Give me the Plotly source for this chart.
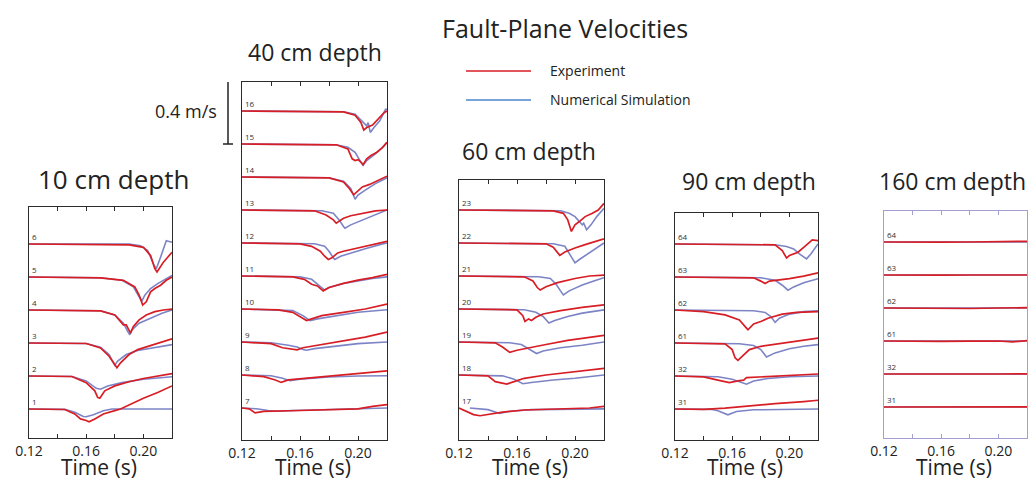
import plotly.graph_objects as go

W, H = 1029, 480
PX_PER_MS = 165.0      # vertical scale: pixels per m/s
SPACING = 0.2          # m/s between stacked stations

RED = "#d81e25"
BLUE = "#7c84c6"
LEG_BLUE = "#4b86cf"

TIME_TICKS = [0.12, 0.14, 0.16, 0.18, 0.20, 0.22]
TIME_TICK_TEXT = ["0.12", "", "0.16", "", "0.20", ""]
X_TITLE = "Time (s)"

PANEL_TITLES = ["10 cm depth", "40 cm depth", "60 cm depth", "90 cm depth", "160 cm depth"]

# ---------------- 10 cm depth (stations bottom -> top) ----------------
STATIONS_10 = ["1", "2", "3", "4", "5", "6"]
EXP_10 = {
    "1": ([0.12, 0.145, 0.152, 0.156, 0.16, 0.162, 0.166, 0.172, 0.18, 0.184, 0.2, 0.21, 0.22],
          [0, -0.003, -0.03, -0.06, -0.07, -0.078, -0.06, -0.03, -0.01, 0.0, 0.065, 0.1, 0.14]),
    "2": ([0.12, 0.15, 0.16, 0.166, 0.168, 0.1695, 0.171, 0.173, 0.18, 0.19, 0.2, 0.21, 0.22],
          [0, -0.003, -0.04, -0.09, -0.13, -0.135, -0.115, -0.09, -0.06, -0.035, -0.015, 0.0, 0.015]),
    "3": ([0.12, 0.16, 0.17, 0.176, 0.18, 0.1815, 0.184, 0.19, 0.196, 0.205, 0.212, 0.22],
          [0, -0.003, -0.03, -0.08, -0.13, -0.15, -0.12, -0.07, -0.04, -0.015, 0.0, 0.025]),
    "4": ([0.12, 0.17, 0.18, 0.186, 0.188, 0.19, 0.191, 0.193, 0.197, 0.202, 0.208, 0.214, 0.22],
          [0, -0.005, -0.03, -0.09, -0.09, -0.12, -0.14, -0.1, -0.06, -0.03, -0.01, 0.0, 0.005]),
    "5": ([0.12, 0.17, 0.186, 0.194, 0.197, 0.1995, 0.202, 0.205, 0.208, 0.212, 0.216, 0.22],
          [0, -0.005, -0.02, -0.06, -0.11, -0.17, -0.15, -0.09, -0.07, -0.05, -0.02, 0.0]),
    "6": ([0.12, 0.19, 0.2, 0.205, 0.208, 0.2095, 0.211, 0.214, 0.217, 0.22],
          [0, -0.005, -0.02, -0.07, -0.15, -0.17, -0.15, -0.11, -0.08, -0.05]),
}
SIM_10 = {
    "1": ([0.12, 0.145, 0.152, 0.158, 0.16, 0.165, 0.172, 0.178, 0.22],
          [0, -0.002, -0.02, -0.045, -0.047, -0.035, -0.01, 0.0, 0.0]),
    "2": ([0.12, 0.15, 0.16, 0.167, 0.17, 0.175, 0.185, 0.2, 0.22],
          [0, -0.003, -0.03, -0.075, -0.08, -0.06, -0.04, -0.02, -0.005]),
    "3": ([0.12, 0.16, 0.17, 0.176, 0.179, 0.18, 0.182, 0.188, 0.196, 0.206, 0.22],
          [0, -0.003, -0.025, -0.07, -0.12, -0.135, -0.11, -0.07, -0.045, -0.03, -0.01]),
    "4": ([0.12, 0.17, 0.18, 0.186, 0.189, 0.1905, 0.192, 0.197, 0.205, 0.213, 0.22],
          [0, -0.005, -0.03, -0.08, -0.13, -0.15, -0.12, -0.08, -0.05, -0.02, 0.0]),
    "5": ([0.12, 0.17, 0.185, 0.193, 0.197, 0.199, 0.201, 0.205, 0.21, 0.215, 0.22],
          [0, -0.005, -0.02, -0.06, -0.12, -0.145, -0.11, -0.07, -0.04, -0.015, 0.01]),
    "6": ([0.12, 0.19, 0.198, 0.203, 0.2075, 0.209, 0.212, 0.216, 0.22],
          [0, 0.0, -0.01, -0.04, -0.13, -0.15, -0.08, 0.02, 0.01]),
}

# ---------------- 40 cm depth ----------------
STATIONS_40 = ["7", "8", "9", "10", "11", "12", "13", "14", "15", "16"]
EXP_40 = {
    "7": ([0.12, 0.125, 0.129, 0.135, 0.16, 0.18, 0.2, 0.21, 0.22],
          [0, -0.005, -0.03, -0.02, -0.015, -0.012, -0.005, 0.01, 0.02]),
    "8": ([0.12, 0.135, 0.143, 0.147, 0.152, 0.165, 0.18, 0.2, 0.22],
          [0, -0.01, -0.03, -0.045, -0.03, -0.02, -0.005, 0.01, 0.025]),
    "9": ([0.12, 0.14, 0.148, 0.155, 0.158, 0.162, 0.175, 0.19, 0.205, 0.22],
          [0, -0.01, -0.035, -0.045, -0.048, -0.035, -0.015, 0.01, 0.03, 0.06]),
    "10": ([0.12, 0.145, 0.155, 0.162, 0.1645, 0.168, 0.175, 0.19, 0.205, 0.22],
           [0, -0.005, -0.02, -0.06, -0.07, -0.06, -0.04, -0.02, 0.0, 0.03]),
    "11": ([0.12, 0.155, 0.163, 0.168, 0.172, 0.175, 0.176, 0.18, 0.19, 0.2, 0.21, 0.22],
           [0, -0.005, -0.02, -0.05, -0.06, -0.08, -0.09, -0.07, -0.045, -0.025, -0.01, 0.01]),
    "12": ([0.12, 0.16, 0.168, 0.174, 0.177, 0.1795, 0.182, 0.186, 0.19, 0.2, 0.21, 0.22],
           [0, -0.005, -0.02, -0.05, -0.08, -0.1, -0.09, -0.06, -0.05, -0.03, -0.01, 0.01]),
    "13": ([0.12, 0.17, 0.178, 0.183, 0.185, 0.187, 0.19, 0.195, 0.205, 0.212, 0.22],
           [0, -0.005, -0.03, -0.06, -0.08, -0.07, -0.05, -0.035, -0.02, -0.005, 0.0]),
    "14": ([0.12, 0.18, 0.19, 0.194, 0.197, 0.199, 0.203, 0.208, 0.214, 0.22],
           [0, -0.005, -0.03, -0.07, -0.108, -0.09, -0.06, -0.045, -0.02, 0.005]),
    "15": ([0.12, 0.185, 0.193, 0.196, 0.198, 0.2, 0.202, 0.2035, 0.206, 0.209, 0.213, 0.217, 0.22],
           [0, -0.005, -0.03, -0.09, -0.1, -0.095, -0.11, -0.125, -0.09, -0.07, -0.05, -0.02, 0.01]),
    "16": ([0.12, 0.19, 0.198, 0.202, 0.204, 0.206, 0.21, 0.214, 0.218, 0.22],
           [0, -0.005, -0.025, -0.07, -0.115, -0.1, -0.085, -0.05, -0.01, 0.0]),
}
SIM_40 = {
    "7": ([0.12, 0.13, 0.138, 0.144, 0.155, 0.18, 0.2, 0.22],
          [0, -0.005, -0.015, -0.02, -0.015, -0.01, -0.006, 0.0]),
    "8": ([0.12, 0.14, 0.148, 0.153, 0.16, 0.18, 0.2, 0.22],
          [0, -0.005, -0.02, -0.035, -0.025, -0.012, -0.006, -0.005]),
    "9": ([0.12, 0.14, 0.152, 0.158, 0.162, 0.1645, 0.17, 0.185, 0.2, 0.22],
          [0, -0.005, -0.02, -0.03, -0.045, -0.05, -0.04, -0.025, -0.01, 0.0]),
    "10": ([0.12, 0.155, 0.162, 0.167, 0.172, 0.185, 0.2, 0.22],
           [0, -0.01, -0.04, -0.07, -0.06, -0.04, -0.02, -0.005]),
    "11": ([0.12, 0.16, 0.168, 0.172, 0.176, 0.177, 0.18, 0.19, 0.2, 0.21, 0.22],
           [0, -0.005, -0.02, -0.05, -0.08, -0.085, -0.07, -0.045, -0.03, -0.015, -0.005]),
    "12": ([0.12, 0.17, 0.177, 0.18, 0.183, 0.184, 0.188, 0.195, 0.205, 0.215, 0.22],
           [0, -0.005, -0.02, -0.05, -0.09, -0.1, -0.08, -0.06, -0.035, -0.01, 0.0]),
    "13": ([0.12, 0.175, 0.183, 0.187, 0.19, 0.191, 0.195, 0.203, 0.212, 0.22],
           [0, -0.005, -0.02, -0.06, -0.1, -0.11, -0.09, -0.06, -0.03, 0.0]),
    "14": ([0.12, 0.18, 0.19, 0.195, 0.198, 0.2, 0.205, 0.212, 0.22],
           [0, -0.005, -0.025, -0.07, -0.135, -0.11, -0.08, -0.04, -0.005]),
    "15": ([0.12, 0.185, 0.193, 0.198, 0.202, 0.2035, 0.206, 0.212, 0.217, 0.22],
           [0, -0.005, -0.02, -0.05, -0.11, -0.13, -0.1, -0.06, -0.02, 0.01]),
    "16": ([0.12, 0.19, 0.198, 0.203, 0.206, 0.207, 0.2085, 0.211, 0.215, 0.219, 0.22],
           [0, -0.005, -0.02, -0.06, -0.09, -0.07, -0.13, -0.1, -0.06, 0.01, 0.01]),
}

# ---------------- 60 cm depth ----------------
STATIONS_60 = ["17", "18", "19", "20", "21", "22", "23"]
EXP_60 = {
    "17": ([0.12, 0.125, 0.13, 0.1345, 0.14, 0.15, 0.165, 0.19, 0.21, 0.22],
           [0, -0.02, -0.04, -0.047, -0.04, -0.025, -0.012, -0.005, 0.0, 0.01]),
    "18": ([0.12, 0.14, 0.145, 0.15, 0.153, 0.158, 0.165, 0.18, 0.2, 0.22],
           [0, -0.005, -0.04, -0.05, -0.055, -0.04, -0.02, 0.0, 0.02, 0.04]),
    "19": ([0.12, 0.145, 0.15, 0.155, 0.16, 0.168, 0.18, 0.195, 0.21, 0.22],
           [0, -0.005, -0.03, -0.063, -0.05, -0.035, -0.015, 0.01, 0.03, 0.04]),
    "20": ([0.12, 0.16, 0.164, 0.1655, 0.168, 0.17, 0.173, 0.178, 0.19, 0.205, 0.22],
           [0, -0.005, -0.04, -0.075, -0.06, -0.07, -0.05, -0.03, -0.01, 0.01, 0.025]),
    "21": ([0.12, 0.165, 0.171, 0.174, 0.176, 0.18, 0.188, 0.2, 0.21, 0.22],
           [0, -0.005, -0.03, -0.07, -0.085, -0.065, -0.04, -0.015, 0.0, 0.005]),
    "22": ([0.12, 0.18, 0.185, 0.1895, 0.193, 0.2, 0.207, 0.215, 0.22],
           [0, -0.005, -0.025, -0.075, -0.055, -0.03, -0.01, 0.01, 0.025]),
    "23": ([0.12, 0.185, 0.192, 0.195, 0.1975, 0.2, 0.203, 0.207, 0.212, 0.216, 0.22],
           [0, -0.005, -0.02, -0.06, -0.13, -0.09, -0.07, -0.04, -0.02, 0.0, 0.04]),
}
SIM_60 = {
    "17": ([0.1275, 0.14, 0.148, 0.155, 0.17, 0.2, 0.22],
           [0, -0.01, -0.033, -0.02, -0.01, -0.005, -0.005]),
    "18": ([0.12, 0.15, 0.158, 0.164, 0.17, 0.185, 0.2, 0.22],
           [0, -0.005, -0.025, -0.053, -0.045, -0.03, -0.02, 0.0]),
    "19": ([0.12, 0.155, 0.163, 0.168, 0.1735, 0.178, 0.19, 0.205, 0.22],
           [0, -0.005, -0.015, -0.04, -0.07, -0.055, -0.035, -0.02, 0.0]),
    "20": ([0.12, 0.165, 0.173, 0.178, 0.182, 0.186, 0.195, 0.205, 0.22],
           [0, -0.005, -0.02, -0.045, -0.085, -0.07, -0.045, -0.025, -0.005]),
    "21": ([0.12, 0.175, 0.183, 0.187, 0.19, 0.192, 0.196, 0.205, 0.213, 0.22],
           [0, -0.005, -0.015, -0.05, -0.09, -0.115, -0.09, -0.055, -0.03, -0.01]),
    "22": ([0.12, 0.185, 0.193, 0.196, 0.2, 0.203, 0.21, 0.215, 0.22],
           [0, -0.005, -0.02, -0.06, -0.12, -0.1, -0.06, -0.03, 0.0]),
    "23": ([0.12, 0.19, 0.196, 0.2, 0.203, 0.205, 0.206, 0.208, 0.211, 0.215, 0.22],
           [0, -0.005, -0.02, -0.04, -0.07, -0.09, -0.08, -0.12, -0.09, -0.04, 0.01]),
}

# ---------------- 90 cm depth ----------------
STATIONS_90 = ["31", "32", "61", "62", "63", "64"]
EXP_90 = {
    "31": ([0.12, 0.14, 0.155, 0.17, 0.19, 0.21, 0.22],
           [0, -0.002, 0.005, 0.018, 0.032, 0.045, 0.053]),
    "32": ([0.12, 0.14, 0.15, 0.158, 0.164, 0.168, 0.17, 0.18, 0.2, 0.22],
           [0, -0.005, -0.025, -0.04, -0.03, -0.025, -0.01, -0.005, 0.005, 0.012]),
    "61": ([0.12, 0.155, 0.16, 0.162, 0.164, 0.167, 0.172, 0.18, 0.195, 0.22],
           [0, -0.005, -0.04, -0.09, -0.105, -0.08, -0.04, -0.02, 0.0, 0.03]),
    "62": ([0.12, 0.14, 0.155, 0.165, 0.17, 0.171, 0.175, 0.18, 0.185, 0.195, 0.205, 0.22],
           [0, -0.01, -0.03, -0.06, -0.11, -0.12, -0.085, -0.07, -0.05, -0.025, -0.015, -0.01]),
    "63": ([0.12, 0.175, 0.18, 0.183, 0.186, 0.192, 0.2, 0.21, 0.22],
           [0, -0.005, -0.025, -0.04, -0.025, -0.02, -0.01, 0.005, 0.025]),
    "64": ([0.12, 0.19, 0.195, 0.198, 0.2, 0.203, 0.206, 0.21, 0.216, 0.22],
           [0, -0.005, -0.04, -0.085, -0.07, -0.06, -0.05, -0.02, 0.025, 0.02]),
}
SIM_90 = {
    "31": ([0.12, 0.145, 0.15, 0.157, 0.163, 0.175, 0.22],
           [0, -0.002, -0.01, -0.035, -0.015, -0.005, 0.0]),
    "32": ([0.12, 0.15, 0.16, 0.165, 0.17, 0.175, 0.185, 0.2, 0.22],
           [0, -0.005, -0.02, -0.035, -0.05, -0.03, -0.015, -0.005, 0.0]),
    "61": ([0.12, 0.165, 0.175, 0.18, 0.184, 0.19, 0.2, 0.21, 0.22],
           [0, -0.005, -0.015, -0.04, -0.085, -0.06, -0.035, -0.02, -0.01]),
    "62": ([0.12, 0.175, 0.183, 0.187, 0.19, 0.193, 0.2, 0.21, 0.22],
           [0, -0.005, -0.015, -0.04, -0.075, -0.05, -0.025, -0.01, -0.005]),
    "63": ([0.12, 0.18, 0.19, 0.195, 0.199, 0.203, 0.21, 0.22],
           [0, -0.005, -0.02, -0.05, -0.08, -0.06, -0.035, -0.01]),
    "64": ([0.12, 0.19, 0.198, 0.203, 0.207, 0.212, 0.215, 0.22],
           [0, -0.005, -0.015, -0.03, -0.06, -0.09, -0.06, 0.0]),
}

# ---------------- 160 cm depth ----------------
STATIONS_160 = ["31", "32", "61", "62", "63", "64"]
EXP_160 = {
    "31": ([0.12, 0.14, 0.16, 0.18, 0.2, 0.22], [0, 0.001, -0.002, 0.0, 0.002, 0.001]),
    "32": ([0.12, 0.14, 0.16, 0.18, 0.2, 0.22], [0, -0.001, 0.0, -0.002, 0.0, 0.001]),
    "61": ([0.12, 0.14, 0.16, 0.18, 0.2, 0.21, 0.22], [0, -0.003, -0.002, -0.001, 0.0, -0.005, 0.002]),
    "62": ([0.12, 0.14, 0.16, 0.18, 0.2, 0.22], [0, -0.002, 0.0, -0.003, 0.0, 0.002]),
    "63": ([0.12, 0.14, 0.16, 0.18, 0.2, 0.22], [0, -0.002, -0.001, 0.0, -0.002, 0.0]),
    "64": ([0.12, 0.14, 0.16, 0.18, 0.2, 0.22], [0, -0.002, -0.001, 0.0, 0.001, 0.004]),
}
SIM_160 = {s: ([0.12, 0.22], [0.0, 0.0]) for s in STATIONS_160}

PANELS = [
    dict(title=PANEL_TITLES[0], stations=STATIONS_10, exp=EXP_10, sim=SIM_10,
         box=(29, 172, 207, 438), base=409, title_xy=(113, 179), title_size=26, frame="#2b2b2b"),
    dict(title=PANEL_TITLES[1], stations=STATIONS_40, exp=EXP_40, sim=SIM_40,
         box=(242, 387, 82, 440), base=408, title_xy=(315, 52), title_size=23, frame="#2b2b2b"),
    dict(title=PANEL_TITLES[2], stations=STATIONS_60, exp=EXP_60, sim=SIM_60,
         box=(459, 604, 180, 440), base=408, title_xy=(529, 151), title_size=23, frame="#2b2b2b"),
    dict(title=PANEL_TITLES[3], stations=STATIONS_90, exp=EXP_90, sim=SIM_90,
         box=(675, 818, 213, 440), base=409, title_xy=(749, 181), title_size=23, frame="#2b2b2b"),
    dict(title=PANEL_TITLES[4], stations=STATIONS_160, exp=EXP_160, sim=SIM_160,
         box=(884, 1027, 211, 438), base=407, title_xy=(952, 181), title_size=23, frame="#a39fd3"),
]

FONT = "Open Sans, Noto Sans, DejaVu Sans, sans-serif"


def px_x(px):
    return px / W


def px_y(py):
    return 1 - py / H


fig = go.Figure()
annotations = []
shapes = []

for i, p in enumerate(PANELS, start=1):
    xa = "x" if i == 1 else f"x{i}"
    ya = "y" if i == 1 else f"y{i}"
    left, right, top, bottom = p["box"]
    y_lo = -(bottom - p["base"]) / PX_PER_MS
    y_hi = (p["base"] - top) / PX_PER_MS
    for k, st in enumerate(p["stations"]):
        off = k * SPACING
        ts, vs = p["sim"][st]
        fig.add_trace(go.Scatter(x=ts, y=[v + off for v in vs], mode="lines",
                                 line=dict(color=BLUE, width=1.6), xaxis=xa, yaxis=ya,
                                 showlegend=False, hoverinfo="skip"))
        ts, vs = p["exp"][st]
        fig.add_trace(go.Scatter(x=ts, y=[v + off for v in vs], mode="lines",
                                 line=dict(color=RED, width=1.7), xaxis=xa, yaxis=ya,
                                 showlegend=False, hoverinfo="skip"))
        annotations.append(dict(x=0.1205, y=off, xref=xa, yref=ya, text=st, showarrow=False,
                                xanchor="left", yanchor="bottom", yshift=0,
                                font=dict(size=8, color="#333333", family=FONT)))
    axis_common = dict(showgrid=False, zeroline=False, showline=True, linecolor=p["frame"],
                       linewidth=1.2, automargin=False)
    fig.layout[("xaxis" if i == 1 else f"xaxis{i}")] = dict(
        domain=[px_x(left), px_x(right)], range=[0.12, 0.22], anchor=ya,
        tickvals=TIME_TICKS, ticktext=TIME_TICK_TEXT, ticks="inside", ticklen=4,
        tickcolor=p["frame"], mirror="ticks",
        tickfont=dict(size=14, color="#222222", family=FONT),
        **axis_common)
    fig.layout[("yaxis" if i == 1 else f"yaxis{i}")] = dict(
        domain=[px_y(bottom), px_y(top)], range=[y_lo, y_hi], anchor=xa,
        showticklabels=False, ticks="", mirror=True, **axis_common)
    tx, ty = p["title_xy"]
    annotations.append(dict(x=px_x(tx), y=px_y(ty), xref="paper", yref="paper", text=p["title"],
                            showarrow=False, xanchor="center", yanchor="middle",
                            font=dict(size=p["title_size"], color="#222222", family=FONT)))
    # x-axis title, placed just under the tick labels
    annotations.append(dict(x=px_x((left + right) / 2 - 2), y=px_y(482), xref="paper",
                            yref="paper", text=X_TITLE, showarrow=False, xanchor="center",
                            yanchor="bottom", borderpad=0,
                            font=dict(size=21, color="#222222", family=FONT)))

# Scale bar (0.4 m/s) next to the 40 cm panel, around station 16
bar_top = 9 * SPACING + 0.2
bar_bot = 9 * SPACING - 0.2
bx = px_x(228)
cap = 5 / W
shapes += [
    dict(type="line", xref="paper", yref="y2", x0=bx, x1=bx, y0=bar_bot, y1=bar_top,
         line=dict(color="#222222", width=1.5)),
    dict(type="line", xref="paper", yref="y2", x0=bx - cap, x1=bx + cap, y0=bar_top, y1=bar_top,
         line=dict(color="#222222", width=1.5)),
    dict(type="line", xref="paper", yref="y2", x0=bx - cap, x1=bx + cap, y0=bar_bot, y1=bar_bot,
         line=dict(color="#222222", width=1.5)),
]
annotations.append(dict(x=px_x(219), y=9 * SPACING, xref="paper", yref="y2", text="0.4 m/s",
                        showarrow=False, xanchor="right", yanchor="middle",
                        font=dict(size=18, color="#222222", family=FONT)))

# Legend drawn by hand
LEGEND_ITEMS = [("Experiment", RED, 71), ("Numerical Simulation", LEG_BLUE, 100)]
for name, col, yy in LEGEND_ITEMS:
    shapes.append(dict(type="line", xref="paper", yref="paper", x0=px_x(466), x1=px_x(531),
                       y0=px_y(yy), y1=px_y(yy), line=dict(color=col, width=1.6)))
    annotations.append(dict(x=px_x(548), y=px_y(yy - 1), xref="paper", yref="paper", text=name,
                            showarrow=False, xanchor="left", yanchor="middle",
                            font=dict(size=14, color="#222222", family=FONT)))

# Main title
annotations.append(dict(x=px_x(565), y=px_y(28), xref="paper", yref="paper",
                        text="Fault-Plane Velocities", showarrow=False, xanchor="center",
                        yanchor="middle", font=dict(size=25, color="#222222", family=FONT)))

fig.update_layout(width=W, height=H, margin=dict(l=0, r=0, t=0, b=0, autoexpand=False),
                  paper_bgcolor="white", plot_bgcolor="white",
                  annotations=annotations, shapes=shapes, showlegend=False,
                  font=dict(family=FONT))

fig.write_html("out.html", config={"displayModeBar": False},
               post_script="document.body.style.margin='0px';document.body.style.overflow='hidden';")
